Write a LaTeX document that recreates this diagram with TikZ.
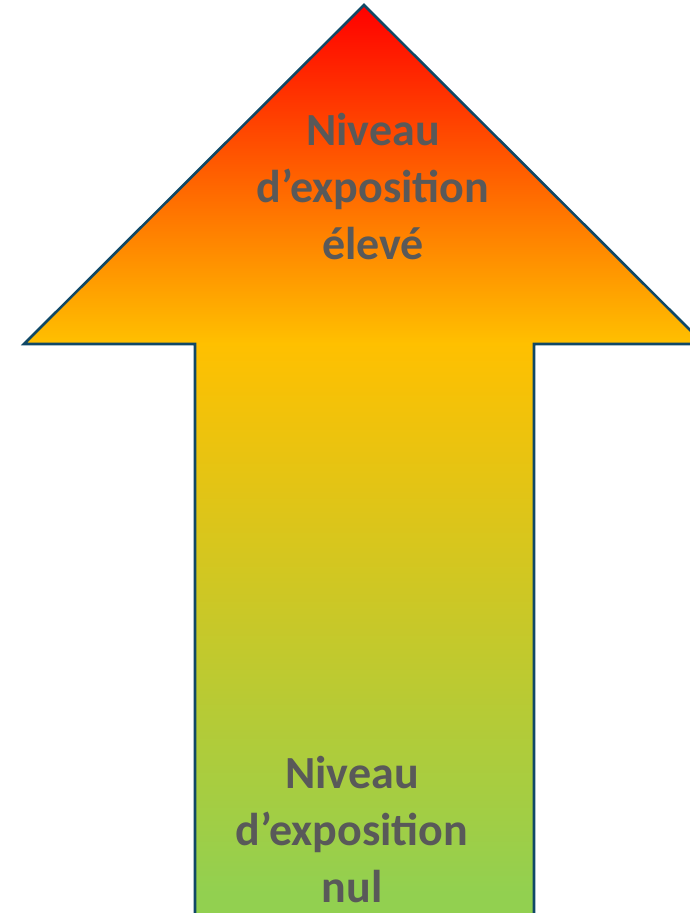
\documentclass[tikz,border=0pt]{standalone}
\usepackage{fontspec}
\setmainfont{Carlito}
\begin{document}
\begin{tikzpicture}[x=1pt,y=1pt]
    \definecolor{expo_rouge}{RGB}{255,0,0}
    \definecolor{expo_ambre}{RGB}{255,192,0}
    \definecolor{expo_vert}{RGB}{146,208,80}
    \definecolor{expo_bord}{RGB}{16,72,102}
    \definecolor{expo_texte}{RGB}{89,89,89}
    \useasboundingbox (0,0) rectangle (689,913);
    \begin{scope}
    \clip (364,908) to (704,569) to (534,569) to (534,-10) to (195,-10) to (195,569) to (24,569) -- cycle;
    \shade[top color=expo_rouge,bottom color=expo_ambre] (0,908) rectangle (704,569);
    \shade[top color=expo_ambre,bottom color=expo_vert] (0,569.5) rectangle (704,20);
    \fill[expo_vert] (0,20.5) rectangle (704,-10);
    \end{scope}
    \draw[line width=2.6pt,color=expo_bord,line join=miter] (364,908) to (704,569) to (534,569) to (534,-10) to (195,-10) to (195,569) to (24,569) -- cycle;
    \node[align=center,inner sep=0pt,color=expo_texte,font=\bfseries\fontsize{46}{57}\selectfont] (haut) at (373,726) {Niveau\\d’exposition\\élevé};
    \node[align=center,inner sep=0pt,color=expo_texte,font=\bfseries\fontsize{46}{57}\selectfont] (bas) at (352,83.5) {Niveau\\d’exposition\\nul};
\end{tikzpicture}
\end{document}
